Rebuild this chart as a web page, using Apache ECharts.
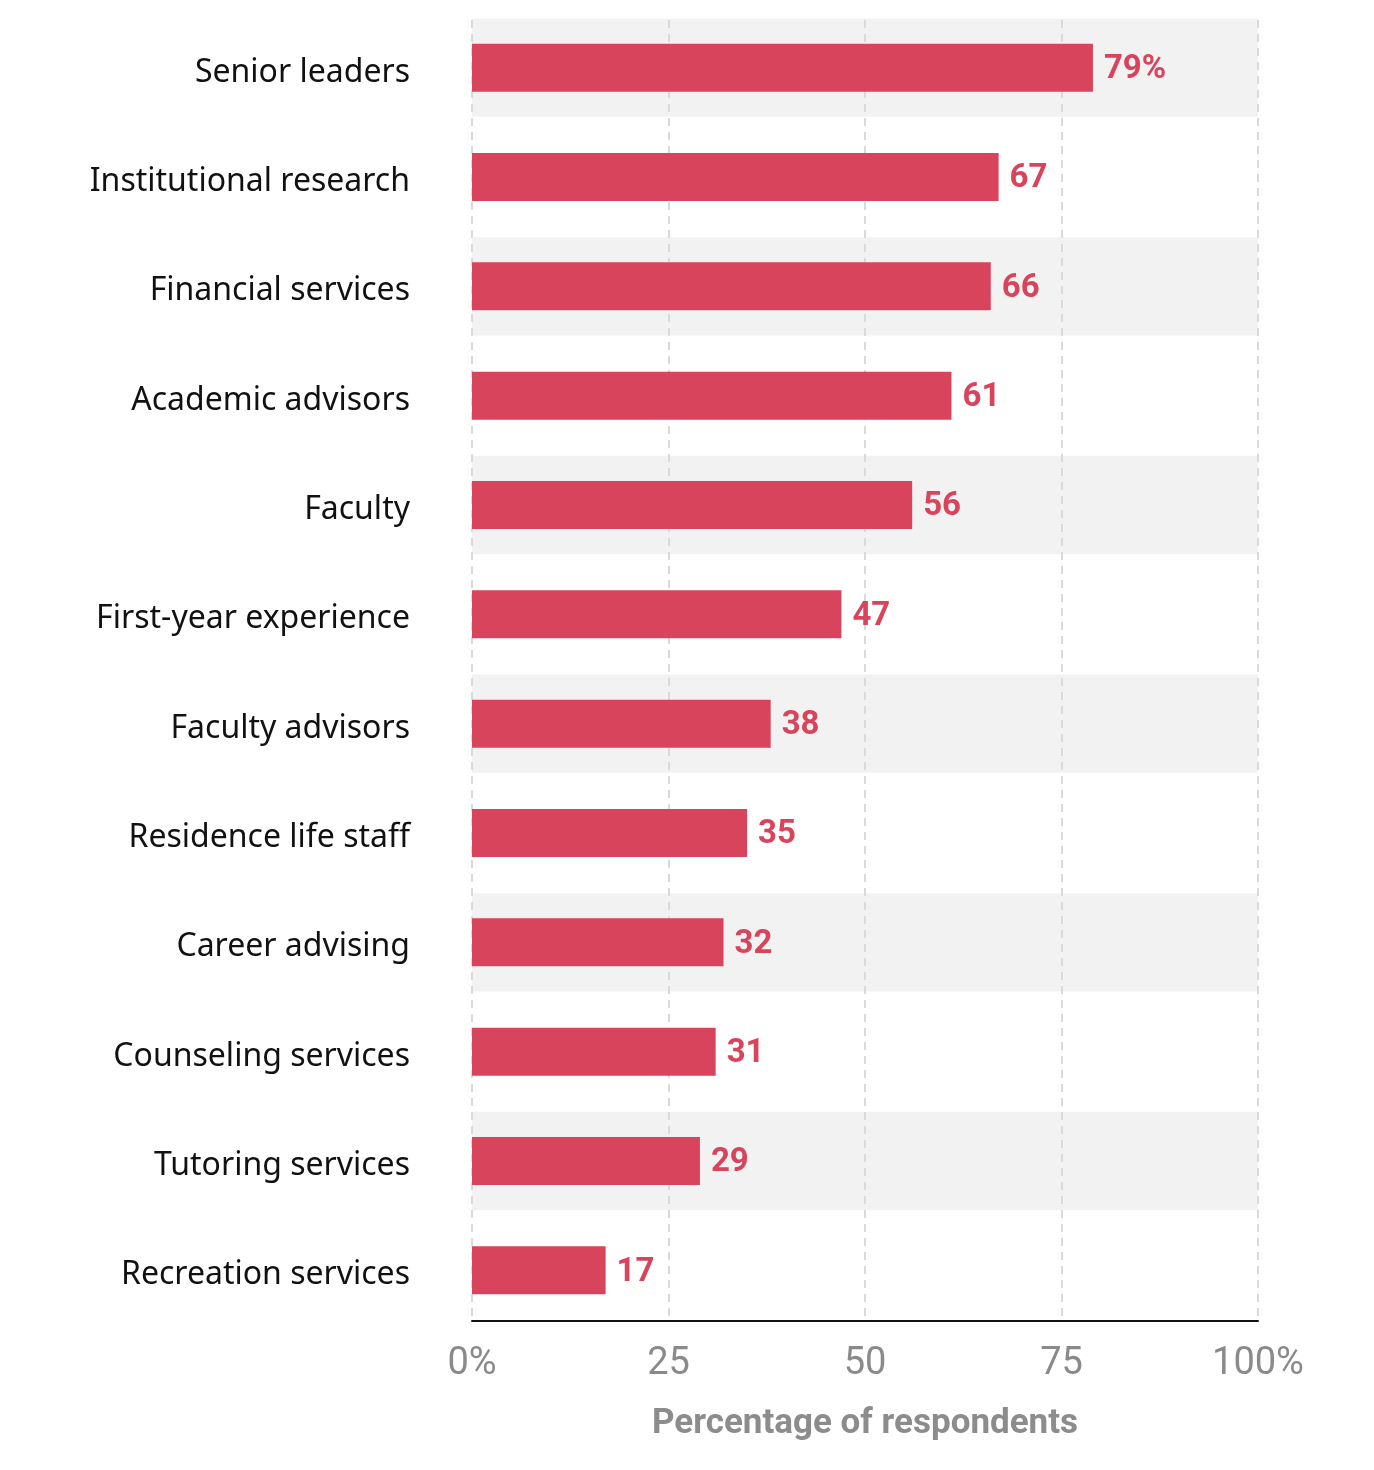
<!DOCTYPE html>
<html>
<head>
<meta charset="utf-8">
<script src="https://cdn.jsdelivr.net/npm/echarts@6/dist/echarts.min.js"></script>
<style>
  html, body { margin: 0; padding: 0; background: #fff; }
  #chart { width: 1374px; height: 1470px; }
</style>
</head>
<body>
<div id="chart"></div>
<script>
const categories = [
  "Senior leaders", "Institutional research", "Financial services", "Academic advisors",
  "Faculty", "First-year experience", "Faculty advisors", "Residence life staff",
  "Career advising", "Counseling services", "Tutoring services", "Recreation services"
];
const values = [79, 67, 66, 61, 56, 47, 38, 35, 32, 31, 29, 17];
const shadedRows = [1, 0, 1, 0, 1, 0, 1, 0, 1, 0, 1, 0];
const xTicks = { 0: "0%", 25: "25", 50: "50", 75: "75", 100: "100%" };
const axisTitle = "Percentage of respondents";

const shadeData = shadedRows.map(s => s ? 100 : '-');
const RED = '#d8445b';
const FONT = 'Roboto, "Noto Sans", sans-serif';
const LABEL_FONT = '"Noto Sans", Roboto, sans-serif';

const chart = echarts.init(document.getElementById('chart'));
chart.setOption({
  animation: false,
  grid: [
    { left: 472, right: 116, top: 13, bottom: 145, containLabel: false },
    { left: 472, right: 116, top: 20, bottom: 149, containLabel: false }
  ],
  xAxis: [{
    type: 'value', min: 0, max: 100, interval: 25, z: 3, offset: -4, gridIndex: 0,
    axisLine: { show: true, lineStyle: { color: '#111', width: 2 } },
    axisTick: { show: false },
    splitLine: { show: false },
    axisLabel: {
      formatter: v => xTicks[v], color: '#8a8a8a', fontSize: 38, fontFamily: FONT, margin: 24
    },
    name: axisTitle, nameLocation: 'middle', nameGap: 86,
    nameTextStyle: { color: '#8c8c8c', fontSize: 35, fontWeight: 'bold', fontFamily: FONT }
  }, {
    type: 'value', min: 0, max: 100, show: false, gridIndex: 0
  }, {
    type: 'value', min: 0, max: 100, interval: 25, gridIndex: 1, z: 1,
    axisLine: { show: false }, axisTick: { show: false }, axisLabel: { show: false },
    splitLine: { show: true, lineStyle: { color: '#dadada', width: 2, type: [8, 6] } }
  }],
  yAxis: [{
    type: 'category', data: categories, inverse: true, gridIndex: 0,
    axisLine: { show: false }, axisTick: { show: false }, splitLine: { show: false },
    axisLabel: {
      margin: 62,
      formatter: v => '{t|' + v + '}',
      rich: { t: { color: '#111', fontSize: 32, fontFamily: LABEL_FONT, padding: [10, 0, 0, 0] } }
    }
  }, {
    type: 'category', data: categories, inverse: true, show: false, gridIndex: 0
  }, {
    type: 'category', data: categories, inverse: true, gridIndex: 1,
    axisLine: { show: false }, axisTick: { show: false }, axisLabel: { show: false },
    splitLine: { show: false }
  }],
  series: [{
    type: 'bar', xAxisIndex: 1, yAxisIndex: 1, data: shadeData, z: 0,
    barWidth: '90%', itemStyle: { color: '#f2f2f2' }, silent: true
  }, {
    type: 'bar', xAxisIndex: 0, yAxisIndex: 0, data: values, z: 2,
    barWidth: 48, itemStyle: { color: RED },
    label: {
      show: true, position: 'right', distance: 11, offset: [0, 2], color: RED,
      fontSize: 33, fontWeight: 'bold', fontFamily: FONT,
      formatter: p => p.dataIndex === 0 ? p.value + '%' : String(p.value)
    }
  }]
});
</script>
</body>
</html>
